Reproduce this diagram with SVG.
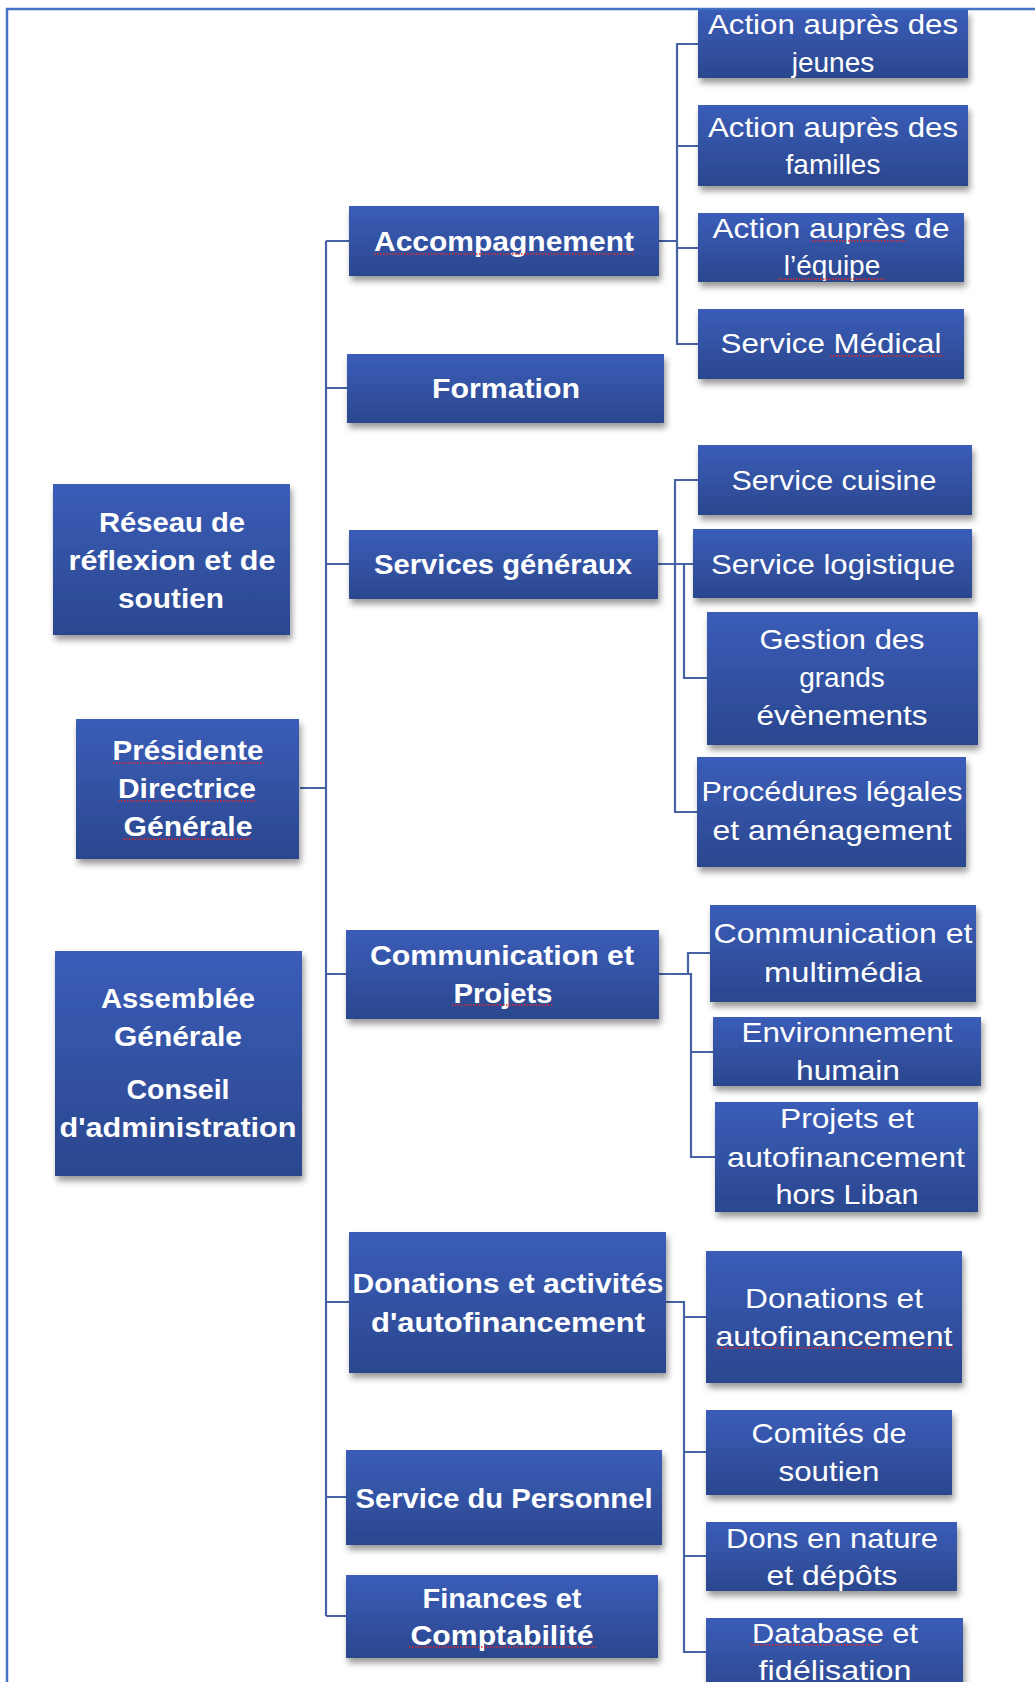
<svg xmlns="http://www.w3.org/2000/svg" width="1035" height="1682" viewBox="0 0 1035 1682">
<defs>
<linearGradient id="g" x1="0" y1="0" x2="0" y2="1">
<stop offset="0" stop-color="#3A5DB8"/>
<stop offset="1" stop-color="#2B478E"/>
</linearGradient>
<filter id="sh" x="-10%" y="-10%" width="125%" height="135%">
<feDropShadow dx="2" dy="5" stdDeviation="3" flood-color="#000" flood-opacity="0.4"/>
</filter>
<style>
.box{fill:url(#g);filter:url(#sh)}
.t{fill:#fff;font-family:"Liberation Sans",Arial,sans-serif;font-size:28px;text-anchor:middle}
.b{font-weight:bold}
.c{fill:none;stroke:#4762A5;stroke-width:2.2}
.sq{fill:none;stroke:#E02A2A;stroke-width:1.3;stroke-dasharray:1.5 1.5}
</style>
</defs>
<rect width="1035" height="1682" fill="#fff"/>
<path d="M7,1682 V9 H1035" fill="none" stroke="#4472C4" stroke-width="2.5"/>

<g id="connectors">
<path class="c" d="M326,241 V1616"/>
<path class="c" d="M326,241 H349 M326,388 H347 M326,564 H349 M300,788 H326 M326,974 H346 M326,1302 H349 M326,1497 H346 M326,1616 H346"/>
<path class="c" d="M659,241 H677 M698,44 H677 V344 H698 M677,146 H698 M677,248 H698"/>
<path class="c" d="M658,564 H693 M698,480 H675 V812 H697 M684,564 V678 H707"/>
<path class="c" d="M659,974 H691 V1157 H715 M691,1052 H713 M688,974 V953 H710"/>
<path class="c" d="M666,1302 H684 V1652 H706 M684,1317 H706 M684,1452 H706 M684,1556 H706"/>
</g>

<g id="n-jeunes"><rect class="box" x="698" y="10" width="270" height="68"/>
<text class="t" x="833" y="34" textLength="250" lengthAdjust="spacingAndGlyphs">Action auprès des</text>
<text class="t" x="833" y="72">jeunes</text></g>

<g id="n-familles"><rect class="box" x="698" y="105" width="270" height="81"/>
<text class="t" x="833" y="137" textLength="250" lengthAdjust="spacingAndGlyphs">Action auprès des</text>
<text class="t" x="833" y="174">familles</text></g>

<g id="n-equipe"><rect class="box" x="698" y="213" width="266" height="69"/>
<text class="t" x="831" y="238" textLength="237" lengthAdjust="spacingAndGlyphs">Action auprès de</text>
<text class="t" x="832" y="275">l’équipe</text>
<path class="sq" d="M812,241 H906 M778,279 H886"/></g>

<g id="n-medical"><rect class="box" x="698" y="309" width="266" height="70"/>
<text class="t" x="831" y="353" textLength="221" lengthAdjust="spacingAndGlyphs">Service Médical</text>
<path class="sq" d="M830,356 H943"/></g>

<g id="n-accompagnement"><rect class="box" x="349" y="206" width="310" height="70"/>
<text class="t b" x="504" y="251" textLength="260" lengthAdjust="spacingAndGlyphs">Accompagnement</text>
<path class="sq" d="M374,254 H634"/></g>

<g id="n-formation"><rect class="box" x="347" y="354" width="317" height="69"/>
<text class="t b" x="506" y="398" textLength="148" lengthAdjust="spacingAndGlyphs">Formation</text></g>

<g id="n-reseau"><rect class="box" x="53" y="484" width="237" height="151"/>
<text class="t b" x="172" y="532" textLength="146" lengthAdjust="spacingAndGlyphs">Réseau de</text>
<text class="t b" x="172" y="570" textLength="207" lengthAdjust="spacingAndGlyphs">réflexion et de</text>
<text class="t b" x="171" y="608" textLength="106" lengthAdjust="spacingAndGlyphs">soutien</text></g>

<g id="n-services-generaux"><rect class="box" x="349" y="530" width="309" height="69"/>
<text class="t b" x="503" y="574" textLength="258" lengthAdjust="spacingAndGlyphs">Services généraux</text></g>

<g id="n-cuisine"><rect class="box" x="698" y="445" width="274" height="70"/>
<text class="t" x="834" y="490" textLength="205" lengthAdjust="spacingAndGlyphs">Service cuisine</text></g>

<g id="n-logistique"><rect class="box" x="693" y="529" width="279" height="69"/>
<text class="t" x="833" y="574" textLength="244" lengthAdjust="spacingAndGlyphs">Service logistique</text></g>

<g id="n-gestion"><rect class="box" x="707" y="612" width="271" height="133"/>
<text class="t" x="842" y="649" textLength="165" lengthAdjust="spacingAndGlyphs">Gestion des</text>
<text class="t" x="842" y="687">grands</text>
<text class="t" x="842" y="725" textLength="171" lengthAdjust="spacingAndGlyphs">évènements</text></g>

<g id="n-procedures"><rect class="box" x="697" y="757" width="269" height="110"/>
<text class="t" x="832" y="801" textLength="261" lengthAdjust="spacingAndGlyphs">Procédures légales</text>
<text class="t" x="832" y="840" textLength="239" lengthAdjust="spacingAndGlyphs">et aménagement</text></g>

<g id="n-presidente"><rect class="box" x="76" y="719" width="223" height="140"/>
<text class="t b" x="188" y="760" textLength="151" lengthAdjust="spacingAndGlyphs">Présidente</text>
<text class="t b" x="187" y="798" textLength="138" lengthAdjust="spacingAndGlyphs">Directrice</text>
<text class="t b" x="188" y="836" textLength="129" lengthAdjust="spacingAndGlyphs">Générale</text>
<path class="sq" d="M113,763 H264 M118,801 H256 M123,839 H252"/></g>

<g id="n-communication-projets"><rect class="box" x="346" y="930" width="313" height="89"/>
<text class="t b" x="502" y="965" textLength="264" lengthAdjust="spacingAndGlyphs">Communication et</text>
<text class="t b" x="503" y="1003" textLength="99" lengthAdjust="spacingAndGlyphs">Projets</text>
<path class="sq" d="M452,1005 H554"/></g>

<g id="n-multimedia"><rect class="box" x="710" y="905" width="266" height="97"/>
<text class="t" x="843" y="943" textLength="259" lengthAdjust="spacingAndGlyphs">Communication et</text>
<text class="t" x="843" y="982" textLength="158" lengthAdjust="spacingAndGlyphs">multimédia</text></g>

<g id="n-environnement"><rect class="box" x="713" y="1017" width="268" height="69"/>
<text class="t" x="847" y="1042" textLength="211" lengthAdjust="spacingAndGlyphs">Environnement</text>
<text class="t" x="848" y="1080" textLength="104" lengthAdjust="spacingAndGlyphs">humain</text></g>

<g id="n-projets-liban"><rect class="box" x="715" y="1102" width="263" height="110"/>
<text class="t" x="847" y="1128" textLength="134" lengthAdjust="spacingAndGlyphs">Projets et</text>
<text class="t" x="846" y="1167" textLength="238" lengthAdjust="spacingAndGlyphs">autofinancement</text>
<text class="t" x="847" y="1204" textLength="143" lengthAdjust="spacingAndGlyphs">hors Liban</text></g>

<g id="n-assemblee"><rect class="box" x="55" y="951" width="247" height="225"/>
<text class="t b" x="178" y="1008" textLength="154" lengthAdjust="spacingAndGlyphs">Assemblée</text>
<text class="t b" x="178" y="1046" textLength="128" lengthAdjust="spacingAndGlyphs">Générale</text>
<text class="t b" x="178" y="1099" textLength="103" lengthAdjust="spacingAndGlyphs">Conseil</text>
<text class="t b" x="178" y="1137" textLength="237" lengthAdjust="spacingAndGlyphs">d'administration</text></g>

<g id="n-donations-activites"><rect class="box" x="349" y="1232" width="317" height="141"/>
<text class="t b" x="508" y="1293" textLength="311" lengthAdjust="spacingAndGlyphs">Donations et activités</text>
<text class="t b" x="508" y="1332" textLength="274" lengthAdjust="spacingAndGlyphs">d'autofinancement</text></g>

<g id="n-donations-autofinancement"><rect class="box" x="706" y="1251" width="256" height="132"/>
<text class="t" x="834" y="1308" textLength="178" lengthAdjust="spacingAndGlyphs">Donations et</text>
<text class="t" x="834" y="1346" textLength="237" lengthAdjust="spacingAndGlyphs">autofinancement</text>
<path class="sq" d="M715,1348 H954"/></g>

<g id="n-personnel"><rect class="box" x="346" y="1450" width="316" height="95"/>
<text class="t b" x="504" y="1508" textLength="297" lengthAdjust="spacingAndGlyphs">Service du Personnel</text></g>

<g id="n-finances"><rect class="box" x="346" y="1575" width="312" height="83"/>
<text class="t b" x="502" y="1608" textLength="159" lengthAdjust="spacingAndGlyphs">Finances et</text>
<text class="t b" x="502" y="1645" textLength="183" lengthAdjust="spacingAndGlyphs">Comptabilité</text>
<path class="sq" d="M409,1647 H596"/></g>

<g id="n-comites"><rect class="box" x="706" y="1410" width="246" height="85"/>
<text class="t" x="829" y="1443" textLength="155" lengthAdjust="spacingAndGlyphs">Comités de</text>
<text class="t" x="829" y="1481" textLength="101" lengthAdjust="spacingAndGlyphs">soutien</text></g>

<g id="n-dons-nature"><rect class="box" x="706" y="1522" width="251" height="69"/>
<text class="t" x="832" y="1548" textLength="212" lengthAdjust="spacingAndGlyphs">Dons en nature</text>
<text class="t" x="832" y="1585" textLength="131" lengthAdjust="spacingAndGlyphs">et dépôts</text></g>

<g id="n-database"><rect class="box" x="706" y="1618" width="257" height="80"/>
<text class="t" x="835" y="1643" textLength="166" lengthAdjust="spacingAndGlyphs">Database et</text>
<text class="t" x="835" y="1680" textLength="153" lengthAdjust="spacingAndGlyphs">fidélisation</text>
<path class="sq" d="M751,1645 H880"/></g>
</svg>
